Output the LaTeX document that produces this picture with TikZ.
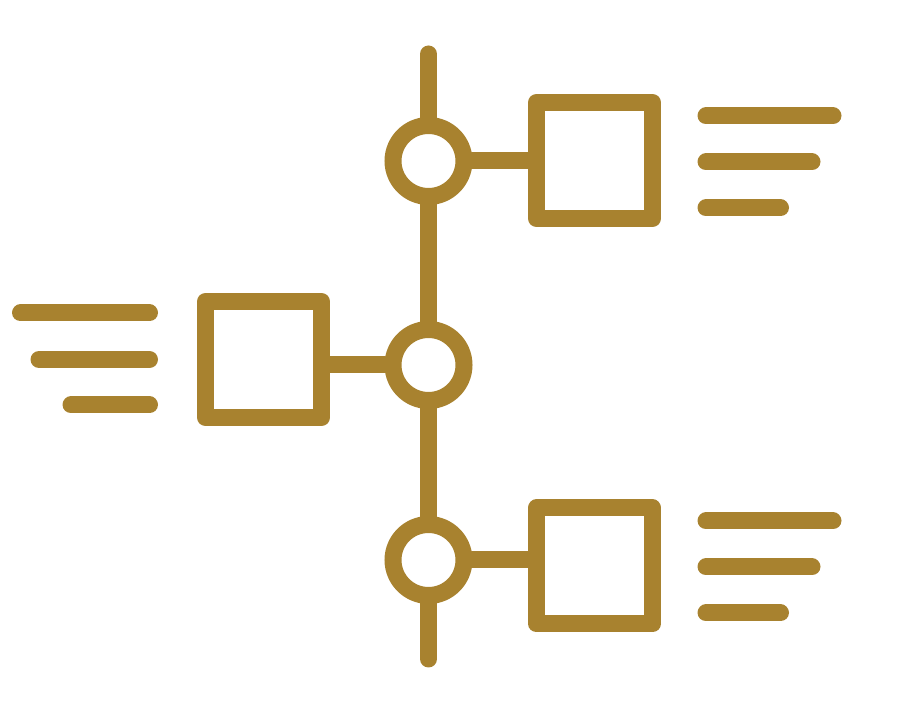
\documentclass[tikz,border=0pt]{standalone}
\usepackage{xcolor}
\usepackage{tikz}
\usetikzlibrary{shapes,positioning,calc}

\definecolor{gold}{RGB}{168,130,47}

\begin{document}
\begin{tikzpicture}[scale=1.0,
  milestone/.style={circle, draw=gold, fill=white, line width=0.34cm, minimum size=1.42cm, inner sep=0pt},
  card/.style={rectangle, draw=gold, fill=white, line width=0.34cm, line join=round, minimum width=2.32cm, minimum height=2.32cm, inner sep=0pt},
  spine/.style={draw=gold, line width=0.34cm, line cap=round},
  textline/.style={draw=gold, line width=0.34cm, line cap=round}]
\useasboundingbox (0,0) rectangle (18,14.28);

% Milestones
\node[milestone] (dotTop) at (8.57,11.06) {};
\node[milestone] (dotMid) at (8.57,6.98) {};
\node[milestone] (dotBot) at (8.57,3.08) {};
\coordinate (spineTop) at (8.57,13.2);
\coordinate (spineBot) at (8.57,1.1);

% Spine
\draw[spine] (spineTop) -- (dotTop) -- (dotMid) -- (dotBot) -- (spineBot);

% Cards
\node[card] (boxTop) at (11.89,11.07) {};
\node[card] (boxMid) at (5.27,7.09) {};
\node[card] (boxBot) at (11.89,2.96) {};
\draw[spine] (dotTop.east) -- (dotTop.east -| boxTop.west);
\draw[spine] (dotMid.west) -- (dotMid.west -| boxMid.east);
\draw[spine] (dotBot.east) -- (dotBot.east -| boxBot.west);

% Text lines, top right
\draw[textline] (14.12,11.96) -- (16.66,11.96);
\draw[textline] (14.12,11.04) -- (16.24,11.04);
\draw[textline] (14.12,10.12) -- (15.61,10.12);

% Text lines, left
\draw[textline] (0.41,8.02) -- (2.99,8.02);
\draw[textline] (0.78,7.09) -- (2.99,7.09);
\draw[textline] (1.42,6.18) -- (2.99,6.18);

% Text lines, bottom right
\draw[textline] (14.12,3.86) -- (16.66,3.86);
\draw[textline] (14.12,2.94) -- (16.24,2.94);
\draw[textline] (14.12,2.02) -- (15.61,2.02);
\end{tikzpicture}
\end{document}
